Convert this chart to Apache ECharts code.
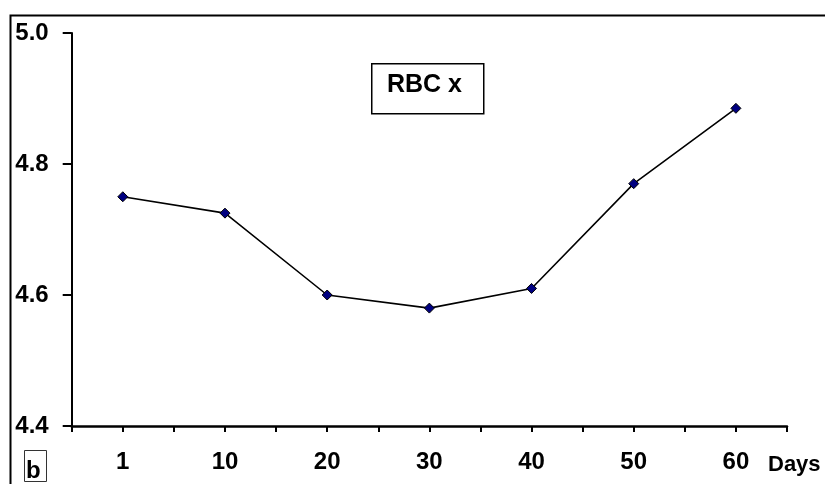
<!DOCTYPE html>
<html>
<head>
<meta charset="utf-8">
<script src="https://cdn.jsdelivr.net/npm/echarts@6/dist/echarts.min.js"></script>
<style>
html,body{margin:0;padding:0;background:#fff;}
#chart{width:825px;height:484px;}
</style>
</head>
<body>
<div id="chart"></div>
<script>
const categories = ['1', '10', '20', '30', '40', '50', '60'];
const rbcValues = [4.75, 4.725, 4.60, 4.58, 4.61, 4.77, 4.885];
const yTicks = { min: 4.4, max: 5.0, interval: 0.2 };
const seriesName = 'RBC x';
const xName = 'Days';
const panelLetter = 'b';

const FONT = '"Liberation Sans", Arial, sans-serif';
const chart = echarts.init(document.getElementById('chart'), null, { renderer: 'canvas' });

const option = {
  backgroundColor: '#ffffff',
  animation: false,
  grid: { left: 71.7, top: 33, right: 38, bottom: 58, containLabel: false },
  xAxis: [
    {
      type: 'category',
      data: categories,
      position: 'bottom',
      boundaryGap: true,
      axisLine: { lineStyle: { color: '#000', width: 2.5 } },
      axisTick: { show: true, alignWithLabel: false, length: 6, lineStyle: { color: '#000', width: 2 } },
      axisLabel: { color: '#000', fontFamily: FONT, fontWeight: 'bold', fontSize: 24, margin: 24 },
      splitLine: { show: false }
    },
    {
      type: 'category',
      data: categories,
      position: 'bottom',
      boundaryGap: true,
      axisLine: { show: false },
      axisTick: { show: true, alignWithLabel: true, length: 6, lineStyle: { color: '#000', width: 2 } },
      axisLabel: { show: false },
      splitLine: { show: false }
    }
  ],
  yAxis: {
    type: 'value',
    min: yTicks.min,
    max: yTicks.max,
    interval: yTicks.interval,
    axisLine: { show: true, lineStyle: { color: '#000', width: 2 } },
    axisTick: { show: true, inside: false, length: 9, lineStyle: { color: '#000', width: 2 } },
    axisLabel: {
      color: '#000', fontFamily: FONT, fontWeight: 'bold', fontSize: 24, margin: 23,
      formatter: v => v.toFixed(1)
    },
    splitLine: { show: false }
  },
  series: [{
    name: seriesName,
    type: 'line',
    xAxisIndex: 0,
    data: rbcValues,
    symbol: 'diamond',
    symbolSize: 10,
    lineStyle: { color: '#000', width: 1.6 },
    itemStyle: { color: '#000080', borderColor: '#000', borderWidth: 1 }
  }],
  graphic: [
    { type: 'rect', left: 8, top: 13, shape: { x: 0, y: 0, width: 900, height: 600 },
      style: { fill: 'none', stroke: '#000', lineWidth: 2 }, silent: true, z: -1 },
    { type: 'rect', left: 371, top: 63, shape: { x: 0, y: 0, width: 112, height: 50 },
      style: { fill: '#fff', stroke: '#000', lineWidth: 1.5 }, z: 5 },
    { type: 'text', left: 387, top: 73, z: 6,
      style: { text: seriesName, fill: '#000', font: 'bold 25px ' + FONT } },
    { type: 'text', left: 768, top: 454, z: 6,
      style: { text: xName, fill: '#000', font: 'bold 22px ' + FONT } },
    { type: 'rect', left: 22, top: 448, shape: { x: 0, y: 0, width: 22, height: 31 },
      style: { fill: 'none', stroke: '#333', lineWidth: 1 }, z: 5 },
    { type: 'text', left: 26, top: 459, z: 6,
      style: { text: panelLetter, fill: '#000', font: 'bold 24px ' + FONT } }
  ]
};
chart.setOption(option);
</script>
</body>
</html>
